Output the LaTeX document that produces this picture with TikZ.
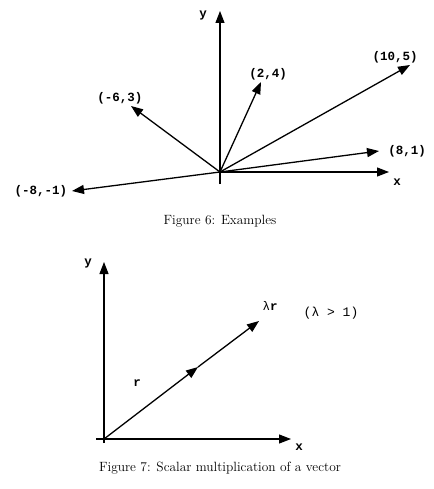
\documentclass[tikz,border=0pt]{standalone}
\usepackage{fontspec}
\usepackage{tikz}
\usetikzlibrary{arrows.meta}
\newfontfamily\lblfont{Liberation Mono}

\tikzset{
	vec/.style={line width=1.3pt,-{Triangle[length=12pt,width=9pt]}},
	axis/.style={line width=1.1pt,-{Triangle[length=12pt,width=9pt]}},
	lbl/.style={font=\lblfont\bfseries\fontsize{12.5}{14}\selectfont,inner sep=0pt},
	figcaption/.style={font=\fontsize{13.4}{15}\selectfont,inner sep=0pt},
}

\begin{document}
\begin{tikzpicture}[x=1pt,y=-1pt]
		\useasboundingbox (0,0) rectangle (433,489);
		% Figure 6
		\coordinate (o) at (220,172);
		\coordinate (ybot) at (220,184);
		\coordinate (ytop) at (220,11);
		\coordinate (xtip) at (389,172);
		\coordinate (a) at (131,106);
		\coordinate (b) at (261,82);
		\coordinate (c) at (410,65);
		\coordinate (d) at (379,151);
		\coordinate (e) at (72,191);
		\node[lbl] (ylbl) at (203,15) {y};
		\node[lbl] (xlbl) at (397,182) {x};
		\node[lbl] (la) at (120,98) {(-6,3)};
		\node[lbl] (lb) at (268,74) {(2,4)};
		\node[lbl] (lc) at (395,57) {(10,5)};
		\node[lbl] (ld) at (407,151) {(8,1)};
		\node[lbl] (le) at (41,191) {(-8,-1)};
		\node[figcaption] (cap6) at (220,221) {Figure 6: Examples};
		
		\draw[axis] (ybot)--(ytop);
		\draw[axis] (o)--(xtip);
		\draw[vec] (o)--(a);
		\draw[vec] (o)--(b);
		\draw[vec] (o)--(c);
		\draw[vec] (o)--(d);
		\draw[vec] (o)--(e);
		
		% Figure 7
		\coordinate (o2) at (104,439);
		\coordinate (ybot2) at (104,443);
		\coordinate (ytop2) at (104,262);
		\coordinate (xbot2) at (96,439);
		\coordinate (xtip2) at (291,439);
		\coordinate (rmid) at (198,367);
		\coordinate (rtip) at (259,321);
		\node[lbl] (ylbl2) at (88,263) {y};
		\node[lbl] (xlbl2) at (299,447) {x};
		\node[lbl] (lr) at (137,383) {r};
		\node[lbl] (llr) at (270,306) {\mdseries λ\bfseries r};
		\node[lbl,font=\lblfont\fontsize{13}{14}\selectfont] (lcond) at (331,313) {(λ > 1)};
		\node[figcaption] (cap7) at (220,468) {Figure 7: Scalar multiplication of a vector};
		
		\draw[axis] (ybot2)--(ytop2);
		\draw[axis] (xbot2)--(xtip2);
		\draw[vec] (o2)--(rmid);
		\draw[vec] (rmid)--(rtip);
	\end{tikzpicture}
\end{document}
